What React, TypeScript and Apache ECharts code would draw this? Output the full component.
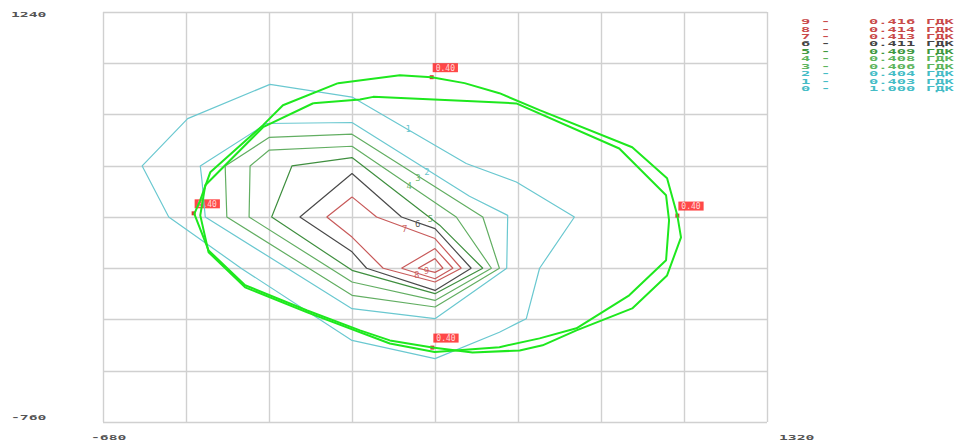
import React, { useEffect, useRef } from 'react';
import * as echarts from 'echarts';

// Axis ranges (tick labels shown at the ends only)
const xRange = [-680, 1320];
const yRange = [-760, 1240];
const gridStep = 250;

// Legend (isoline levels)
const levelIds = ['9', '8', '7', '6', '5', '4', '3', '2', '1', '0'];
const levelValues = ['0.416', '0.414', '0.413', '0.411', '0.409', '0.408', '0.406', '0.404', '0.403', '1.000'];
const levelUnit = 'ГДК';
const levelColors = ['#c94a4a', '#c94a4a', '#c94a4a', '#444444', '#3f983f', '#5cb45c', '#5cb45c', '#45bcc6', '#45bcc6', '#45bcc6'];

// Isolines (x, y in map units)
const contour1 = [[-177, 887], [70, 825], [414, 501], [565, 411], [740, 240], [635, -10], [595, -256], [565, -280], [514, -322], [320, -451], [70, -362], [-262, -12], [-482, 240], [-562, 489], [-425, 720], [-177, 887]];
const contour2 = [[70, 701], [424, 341], [539, 248], [536, -10], [320, -256], [70, -207], [-372, 240], [-382, 419], [-387, 489], [-187, 696], [70, 701]];
const contour3 = [[70, 644], [464, 240], [514, -10], [320, -199], [70, -142], [-307, 240], [-312, 489], [-180, 628], [70, 644]];
const contour4 = [[70, 585], [384, 240], [490, -10], [320, -167], [70, -77], [-240, 240], [-237, 489], [-180, 566], [70, 585]];
const contour5 = [[70, 530], [334, 200], [464, -10], [320, -134], [70, -20], [-172, 240], [-111, 489], [70, 530]];
const contour6 = [[70, 452], [219, 240], [320, 183], [429, -10], [320, -118], [114, -10], [70, 70], [-87, 240], [70, 452]];
const contour7 = [[70, 338], [144, 240], [320, 135], [399, -10], [320, -77], [164, -10], [70, 142], [-6, 240], [70, 338]];
const contour8 = [[219, -10], [320, 86], [374, -10], [320, -61], [219, -10]];
const contour9 = [[269, -10], [320, 37], [344, -10], [320, -30], [269, -10]];

// Two 0.40 boundary lines
const boundaryA = [[28, 893], [-138, 785], [-198, 688], [-357, 458], [-387, 322], [-405, 255], [-362, 77], [-252, -93], [-65, -216], [94, -313], [184, -362], [312, -397], [433, -421], [575, -411], [644, -386], [746, -313], [914, -206], [1019, -45], [1061, 141], [1050, 247], [1019, 429], [914, 580], [635, 761], [514, 844], [409, 893], [310, 922], [214, 932], [28, 893]];
const boundaryB = [[-47, 795], [94, 813], [134, 826], [433, 805], [565, 794], [875, 574], [1016, 346], [1025, 224], [1016, 29], [905, -142], [746, -303], [635, -352], [514, -395], [319, -419], [184, -377], [-65, -225], [-252, -103], [-362, 68], [-387, 248], [-372, 395], [-198, 678], [-47, 795]];

const contourLabelNames = ['1', '2', '3', '4', '5', '6', '7', '8', '9'];
const contourLabelPos = [[239, 668], [296, 460], [269, 428], [242, 390], [306, 229], [268, 204], [229, 183], [265, -45], [294, -25]];

const markerPoints = [[310, 922], [-407, 258], [1050, 247], [312, -397]];
const markerText = '0.40';

const cyan = '#6ac8d0';
const green = '#62ae62';
const green5 = '#3f8f3f';
const dark = '#4a4a4a';
const red = '#c85a5a';
const bright = '#1ee81e';

const contourList = [
  { data: contour1, color: cyan },
  { data: contour2, color: cyan },
  { data: contour3, color: green },
  { data: contour4, color: green },
  { data: contour5, color: green5 },
  { data: contour6, color: dark },
  { data: contour7, color: red },
  { data: contour8, color: red },
  { data: contour9, color: red },
];
const labelColors = ['#3fb6c2', '#3fb6c2', '#4aa84a', '#4aa84a', '#3f8f3f', '#333333', '#c04040', '#c04040', '#c04040'];

const MONO = '"DejaVu Sans Mono", monospace';

export default function App() {
  const ref = useRef<HTMLDivElement>(null);
  useEffect(() => {
    document.body.style.margin = '0';
    if (!ref.current) return;
    const chart = echarts.init(ref.current, null, { renderer: 'svg' });

    const graphics: any[] = [];
    const txt = (text: string, x: number, y: number, fill: string, scaleX: number, size = 7) => ({
      type: 'text',
      x,
      y,
      scaleX,
      silent: true,
      style: { text, fill, font: `bold ${size}px ${MONO}`, verticalAlign: 'middle', textVerticalAlign: 'middle', align: 'left' },
    });
    // Axis end labels
    graphics.push(txt(String(yRange[1]), 11, 14.5, '#555', 2.1));
    graphics.push(txt(String(yRange[0]), 11, 417.5, '#555', 2.1));
    graphics.push(txt(String(xRange[0]), 91, 438, '#555', 2.1));
    graphics.push(txt(String(xRange[1]), 779, 438, '#555', 2.1));
    // Legend
    levelIds.forEach((id, i) => {
      const y = 21.7 + i * 7.48;
      const c = levelColors[i];
      graphics.push(txt(id, 801, y, c, 2.2));
      graphics.push(txt('-', 821, y, c, 2.2));
      graphics.push(txt(levelValues[i], 869, y, c, 2.2));
      graphics.push(txt(levelUnit, 926, y, c, 2.2));
    });

    const series: any[] = contourList.map((c) => ({
      type: 'line',
      xAxisIndex: 0,
      yAxisIndex: 0,
      data: c.data,
      symbol: 'none',
      silent: true,
      lineStyle: { color: c.color, width: 1.2 },
    }));
    series.push({
      type: 'line', xAxisIndex: 0, yAxisIndex: 0, data: boundaryB, symbol: 'none', silent: true,
      lineStyle: { color: bright, width: 2 },
    });
    series.push({
      type: 'line', xAxisIndex: 0, yAxisIndex: 0, data: boundaryA, symbol: 'none', silent: true,
      lineStyle: { color: bright, width: 2 },
    });
    series.push({
      type: 'scatter',
      xAxisIndex: 0,
      yAxisIndex: 0,
      symbolSize: 0,
      silent: true,
      data: contourLabelNames.map((n, i) => ({
        name: n,
        value: contourLabelPos[i],
        label: { color: labelColors[i] },
      })),
      label: {
        show: true,
        position: 'inside',
        formatter: '{b}',
        fontFamily: MONO,
        fontSize: 9,
        backgroundColor: '#ffffff',
        padding: [0, 1],
        lineHeight: 9,
      },
    });
    series.push({
      type: 'scatter',
      xAxisIndex: 0,
      yAxisIndex: 0,
      symbol: 'rect',
      symbolSize: 4,
      silent: true,
      itemStyle: { color: '#d40000' },
      data: markerPoints,
      label: {
        show: true,
        position: [3, -12],
        formatter: markerText,
        color: '#ffffff',
        backgroundColor: '#ff1a1a',
        fontFamily: MONO,
        fontSize: 8,
        lineHeight: 8,
        padding: [1, 3, 0, 3],
      },
    });

    const hiddenAxis = (min: number, max: number) => ({
      type: 'value', min, max, show: false,
      splitLine: { show: false },
    });
    const gridAxis = (span: number) => ({
      type: 'value', min: 0, max: span, interval: gridStep,
      axisLine: { show: false }, axisTick: { show: false }, axisLabel: { show: false },
      splitLine: { show: true, lineStyle: { color: '#d0d0d0', width: 1.4 } },
    });

    chart.setOption({
      animation: false,
      backgroundColor: '#ffffff',
      grid: { left: 103, top: 12, right: 190, bottom: 23, containLabel: false },
      xAxis: [hiddenAxis(xRange[0], xRange[1]), gridAxis(xRange[1] - xRange[0])],
      yAxis: [hiddenAxis(yRange[0], yRange[1]), gridAxis(yRange[1] - yRange[0])],
      series,
      graphic: graphics,
    });
    return () => chart.dispose();
  }, []);
  return <div ref={ref} style={{ width: 957, height: 445 }} />;
}
